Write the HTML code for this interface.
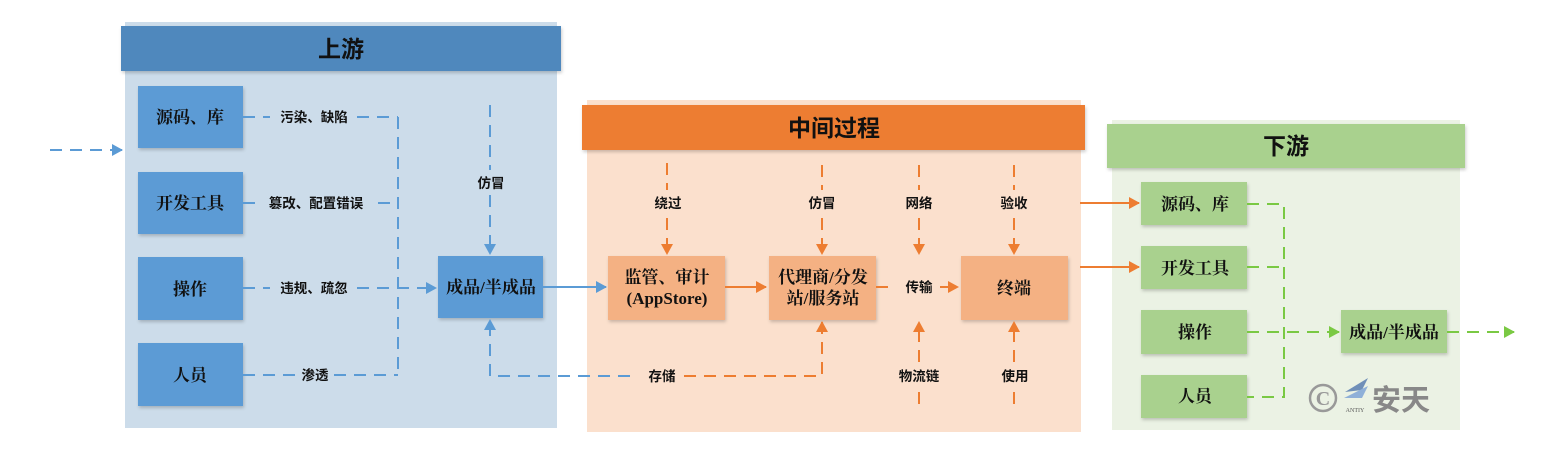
<!DOCTYPE html>
<html><head><meta charset="utf-8"><style>
html,body{margin:0;padding:0;background:#fff;width:1541px;height:459px;overflow:hidden}
svg{display:block}
.h{font-family:"Liberation Sans","Noto Sans CJK SC",sans-serif;font-weight:bold;font-size:23px;fill:#111}
.b{font-family:"Liberation Serif","Noto Serif CJK SC",serif;font-weight:bold;font-size:17px;fill:#111}
.l{font-family:"Liberation Sans","Noto Sans CJK SC",sans-serif;font-weight:bold;font-size:13.5px;fill:#111}
</style></head><body>
<svg width="1541" height="459" viewBox="0 0 1541 459" xmlns="http://www.w3.org/2000/svg">
<defs>
<marker id="ab" markerWidth="12" markerHeight="12" refX="10" refY="6" orient="auto-start-reverse" markerUnits="userSpaceOnUse"><path d="M0,0 L11,6 L0,12 z" fill="#5b9bd5"/></marker>
<marker id="ao" markerWidth="12" markerHeight="12" refX="10" refY="6" orient="auto-start-reverse" markerUnits="userSpaceOnUse"><path d="M0,0 L11,6 L0,12 z" fill="#ed7d31"/></marker>
<marker id="ag" markerWidth="12" markerHeight="12" refX="10" refY="6" orient="auto-start-reverse" markerUnits="userSpaceOnUse"><path d="M0,0 L11,6 L0,12 z" fill="#7ac943"/></marker>
<filter id="sh" x="-5%" y="-5%" width="110%" height="115%"><feDropShadow dx="1" dy="2" stdDeviation="1.5" flood-color="#000" flood-opacity="0.2"/></filter>
</defs>

<!-- backgrounds -->
<rect x="125" y="22" width="432" height="406" fill="#ccdcea"/>
<rect x="587" y="100" width="494" height="332" fill="#fbe0cd"/>
<rect x="1112" y="120" width="348" height="310" fill="#ebf2e4"/>

<!-- upstream -->
<rect x="121" y="26" width="440" height="45" fill="#4f88bd" filter="url(#sh)"/>
<text x="341" y="57" text-anchor="middle" class="h">上游</text>
<g fill="#5b9bd5" filter="url(#sh)">
<rect x="138" y="86" width="105" height="62"/>
<rect x="138" y="172" width="105" height="62"/>
<rect x="138" y="257" width="105" height="63"/>
<rect x="138" y="343" width="105" height="63"/>
<rect x="438" y="256" width="105" height="62"/>
</g>
<text x="190" y="123" text-anchor="middle" class="b">源码、库</text>
<text x="190" y="209" text-anchor="middle" class="b">开发工具</text>
<text x="190" y="295" text-anchor="middle" class="b">操作</text>
<text x="190" y="381" text-anchor="middle" class="b">人员</text>
<text x="491" y="293" text-anchor="middle" class="b">成品/半成品</text>

<g stroke="#5b9bd5" stroke-width="2" fill="none" stroke-dasharray="12,8">
<line x1="50" y1="150" x2="122" y2="150" marker-end="url(#ab)"/>
<line x1="243" y1="117" x2="270" y2="117"/><line x1="357" y1="117" x2="398" y2="117"/>
<line x1="243" y1="203" x2="256" y2="203"/><line x1="378" y1="203" x2="398" y2="203"/>
<line x1="243" y1="288" x2="270" y2="288"/><line x1="357" y1="288" x2="436" y2="288" marker-end="url(#ab)"/>
<line x1="243" y1="375" x2="296" y2="375"/><line x1="334" y1="375" x2="398" y2="375"/>
<line x1="398" y1="117" x2="398" y2="375"/>
<line x1="490" y1="105" x2="490" y2="170"/><line x1="490" y1="195" x2="490" y2="254" marker-end="url(#ab)"/>
<path d="M630,376 L490,376 L490,320" marker-end="url(#ab)"/>
</g>
<text x="314" y="122" text-anchor="middle" class="l">污染、缺陷</text>
<text x="316" y="208" text-anchor="middle" class="l">篡改、配置错误</text>
<text x="314" y="293" text-anchor="middle" class="l">违规、疏忽</text>
<text x="315" y="380" text-anchor="middle" class="l">渗透</text>
<text x="491" y="188" text-anchor="middle" class="l">仿冒</text>
<line x1="543" y1="287" x2="606" y2="287" stroke="#5b9bd5" stroke-width="2" marker-end="url(#ab)"/>

<!-- middle -->
<rect x="582" y="105" width="503" height="45" fill="#ed7d31" filter="url(#sh)"/>
<text x="834" y="136" text-anchor="middle" class="h">中间过程</text>
<g fill="#f4b183" filter="url(#sh)">
<rect x="608" y="256" width="117" height="64"/>
<rect x="769" y="256" width="107" height="64"/>
<rect x="961" y="256" width="107" height="64"/>
</g>
<text x="667" y="283" text-anchor="middle" class="b">监管、审计</text>
<text x="667" y="304" text-anchor="middle" class="b">(AppStore)</text>
<text x="823" y="283" text-anchor="middle" class="b">代理商/分发</text>
<text x="823" y="304" text-anchor="middle" class="b">站/服务站</text>
<text x="1014" y="294" text-anchor="middle" class="b">终端</text>
<line x1="725" y1="287" x2="766" y2="287" stroke="#ed7d31" stroke-width="2" marker-end="url(#ao)"/>
<g stroke="#ed7d31" stroke-width="2" fill="none" stroke-dasharray="12,8">
<line x1="667" y1="163" x2="667" y2="190"/><line x1="667" y1="218" x2="667" y2="254" marker-end="url(#ao)"/>
<line x1="822" y1="165" x2="822" y2="190"/><line x1="822" y1="218" x2="822" y2="254" marker-end="url(#ao)"/>
<line x1="919" y1="165" x2="919" y2="190"/><line x1="919" y1="218" x2="919" y2="254" marker-end="url(#ao)"/>
<line x1="1014" y1="165" x2="1014" y2="190"/><line x1="1014" y1="218" x2="1014" y2="254" marker-end="url(#ao)"/>
<line x1="876" y1="287" x2="893" y2="287"/><line x1="940" y1="287" x2="958" y2="287" marker-end="url(#ao)"/>
<path d="M684,376 L822,376 L822,322" marker-end="url(#ao)"/>
<line x1="919" y1="362" x2="919" y2="322" marker-end="url(#ao)"/><line x1="919" y1="392" x2="919" y2="412"/>
<line x1="1014" y1="362" x2="1014" y2="322" marker-end="url(#ao)"/><line x1="1014" y1="392" x2="1014" y2="412"/>
</g>
<text x="668" y="208" text-anchor="middle" class="l">绕过</text>
<text x="822" y="208" text-anchor="middle" class="l">仿冒</text>
<text x="919" y="208" text-anchor="middle" class="l">网络</text>
<text x="1014" y="208" text-anchor="middle" class="l">验收</text>
<text x="919" y="292" text-anchor="middle" class="l">传输</text>
<text x="662" y="381" text-anchor="middle" class="l">存储</text>
<text x="919" y="381" text-anchor="middle" class="l">物流链</text>
<text x="1015" y="381" text-anchor="middle" class="l">使用</text>

<!-- downstream -->
<rect x="1107" y="124" width="358" height="44" fill="#a9d18e" filter="url(#sh)"/>
<text x="1286" y="154" text-anchor="middle" class="h">下游</text>
<g fill="#a9d18e" filter="url(#sh)">
<rect x="1141" y="182" width="106" height="43"/>
<rect x="1141" y="246" width="106" height="43"/>
<rect x="1141" y="310" width="106" height="44"/>
<rect x="1141" y="375" width="106" height="43"/>
<rect x="1341" y="310" width="106" height="43"/>
</g>
<text x="1195" y="210" text-anchor="middle" class="b">源码、库</text>
<text x="1195" y="274" text-anchor="middle" class="b">开发工具</text>
<text x="1195" y="338" text-anchor="middle" class="b">操作</text>
<text x="1195" y="402" text-anchor="middle" class="b">人员</text>
<text x="1394" y="338" text-anchor="middle" class="b">成品/半成品</text>
<line x1="1080" y1="203" x2="1139" y2="203" stroke="#ed7d31" stroke-width="2" marker-end="url(#ao)"/>
<line x1="1080" y1="267" x2="1139" y2="267" stroke="#ed7d31" stroke-width="2" marker-end="url(#ao)"/>
<g stroke="#7ac943" stroke-width="2" fill="none" stroke-dasharray="12,8">
<path d="M1247,204 L1284,204 L1284,397 L1247,397"/>
<line x1="1247" y1="267" x2="1284" y2="267"/>
<line x1="1247" y1="332" x2="1339" y2="332" marker-end="url(#ag)"/>
<line x1="1447" y1="332" x2="1514" y2="332" marker-end="url(#ag)"/>
</g>
<!-- logo -->
<circle cx="1323" cy="398" r="13" fill="none" stroke="#999" stroke-width="2.5"/>
<text x="1323" y="405" text-anchor="middle" font-family="Liberation Serif,serif" font-weight="bold" font-size="20" fill="#999">C</text>
<path d="M1345,392 L1368,378 L1362,390 Z" fill="#6f8fb8"/>
<path d="M1344,398 L1368,386 L1362,398 Z" fill="#8fb0d8"/>
<text x="1355" y="412" text-anchor="middle" font-family="Liberation Serif,serif" font-size="6" fill="#555">ANTIY</text>
<text x="1372" y="410" font-family="Liberation Sans,'Noto Sans CJK SC',sans-serif" font-weight="bold" font-size="29" fill="#888">安天</text>
</svg>
</body></html>
